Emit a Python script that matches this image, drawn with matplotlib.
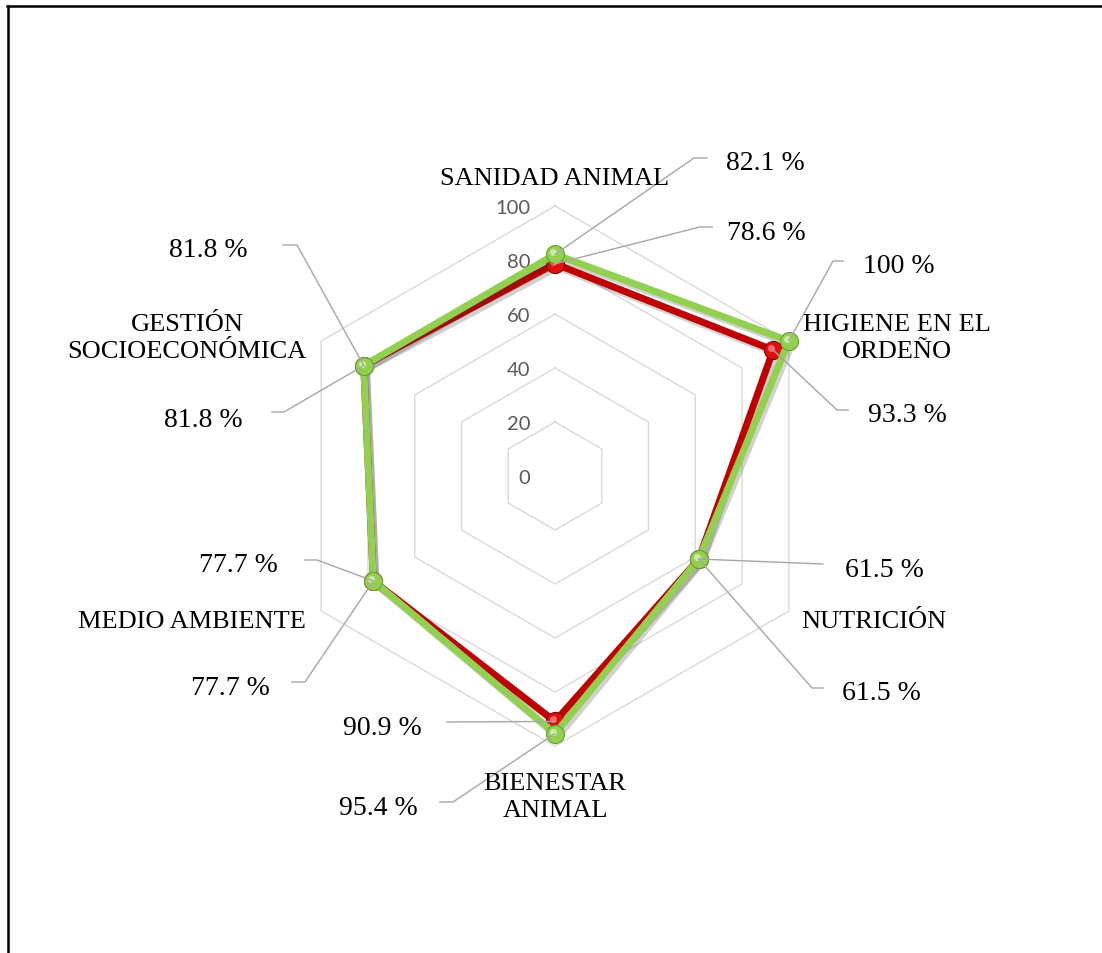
import numpy as np
import matplotlib.pyplot as plt
import matplotlib.patheffects as pe
import matplotlib.transforms as mtransforms
from matplotlib.lines import Line2D

categorias = ['SANIDAD ANIMAL', 'HIGIENE EN EL\nORDEÑO', 'NUTRICIÓN',
              'BIENESTAR\nANIMAL', 'MEDIO AMBIENTE', 'GESTIÓN\nSOCIOECONÓMICA']
serie_roja = [78.6, 93.3, 61.5, 90.9, 77.7, 81.8]
serie_verde = [82.1, 100, 61.5, 95.4, 77.7, 81.8]
niveles = [0, 20, 40, 60, 80, 100]

W, H = 1102, 954
CX, CY, S = 555, 477, 2.7   # centro del radar (px) y px por unidad


def px(x, y):
    return (x - CX) / S, (CY - y) / S


ang = np.deg2rad(90 - 60 * np.arange(len(categorias)))


def radar_xy(vals):
    v = np.asarray(vals, dtype=float)
    return v * np.cos(ang), v * np.sin(ang)


def cerrar(a):
    return np.append(a, a[0])


fig = plt.figure(figsize=(W / 100, H / 100), dpi=100)
ax = fig.add_axes([0, 0, 1, 1])
ax.set_xlim(-CX / S, (W - CX) / S)
ax.set_ylim(-(H - CY) / S, CY / S)
ax.axis('off')

# rejilla hexagonal
for r in niveles[1:]:
    gx, gy = radar_xy([r] * len(categorias))
    ax.plot(cerrar(gx), cerrar(gy), color='#D9D9D9', lw=1.0, zorder=1)
for r in niveles:
    ax.text(-25 / S, r - 1.5 / S, str(r), ha='right', va='center',
            fontsize=14.5, color='#595959', family='Lato', zorder=2)

# series
sombra = [pe.SimpleLineShadow(offset=(2, -2.5), shadow_color='#303030', alpha=0.22),
          pe.Normal()]
brillo = mtransforms.offset_copy(ax.transData, fig=fig, x=-2, y=2, units='dots')
series = {'roja': serie_roja, 'verde': serie_verde}
estilos = {'roja': ('#C00000', '#E01010', '#8E0000', '#FF8080'),
           'verde': ('#92D050', '#92D050', '#6C9E34', '#D8F2B8')}
z = 3
for nombre, vals in series.items():
    linea, cara, borde, luz = estilos[nombre]
    x, y = radar_xy(vals)
    ax.plot(cerrar(x), cerrar(y), color=linea, lw=5, solid_joinstyle='round',
            path_effects=sombra, zorder=z)
    ax.plot(x, y, 'o', ms=13, mfc=cara, mec=borde, mew=0.8, zorder=z + 1)
    ax.plot(x, y, 'o', ms=5, mfc=luz, mec='none', alpha=0.8,
            transform=brillo, zorder=z + 1)
    z += 2

# etiquetas de datos con líneas guía: serie, índice, codo, final, texto, alineación
etiquetas = [
    ('verde', 0, (694, 159), (707, 159), (726, 170), 'left'),
    ('roja', 0, (700, 228), (712, 228), (727, 240), 'left'),
    ('verde', 1, (833, 262), (843, 262), (863, 273), 'left'),
    ('roja', 1, (837, 411), (848, 411), (868, 422), 'left'),
    ('verde', 2, (823, 565), (823, 565), (845, 577), 'left'),
    ('roja', 2, (812, 689), (823, 689), (842, 700), 'left'),
    ('roja', 3, (447, 723), (447, 723), (422, 735), 'right'),
    ('verde', 3, (453, 803), (440, 803), (418, 815), 'right'),
    ('verde', 4, (317, 561), (305, 561), (278, 572), 'right'),
    ('roja', 4, (305, 683), (292, 683), (270, 695), 'right'),
    ('verde', 5, (297, 246), (283, 246), (248, 257), 'right'),
    ('roja', 5, (284, 413), (272, 413), (243, 427), 'right'),
]
for nombre, i, codo, fin, pos, ha in etiquetas:
    v = series[nombre][i]
    x0, y0 = v * np.cos(ang[i]), v * np.sin(ang[i])
    x1, y1 = px(*codo)
    x2, y2 = px(*fin)
    ax.plot([x0, x1, x2], [y0, y1, y2], color='#A6A6A6', lw=1.0, zorder=8)
    tx, ty = px(*pos)
    ax.text(tx, ty, f'{v:g} %', ha=ha, va='baseline', fontsize=20,
            family='Liberation Serif', color='black', zorder=9)

# nombres de las dimensiones (línea base de la última línea)
pos_cat = [(555, 185), (897, 358), (874, 628), (555, 817), (192, 628), (187, 358)]
for nombre, (cx, cy) in zip(categorias, pos_cat):
    tx, ty = px(cx, cy)
    ax.text(tx, ty, nombre, ha='center', va='baseline', fontsize=19,
            family='Liberation Serif', color='black', linespacing=1.32,
            multialignment='center', zorder=9)

# marco
fig.add_artist(Line2D([7.5 / W, 7.5 / W], [0, 1 - 7 / H], color='black', lw=1.8,
                      transform=fig.transFigure))
fig.add_artist(Line2D([6.5 / W, 1], [1 - 7 / H, 1 - 7 / H], color='black', lw=1.8,
                      transform=fig.transFigure))

fig.savefig('out.png', dpi=100, facecolor='white')
